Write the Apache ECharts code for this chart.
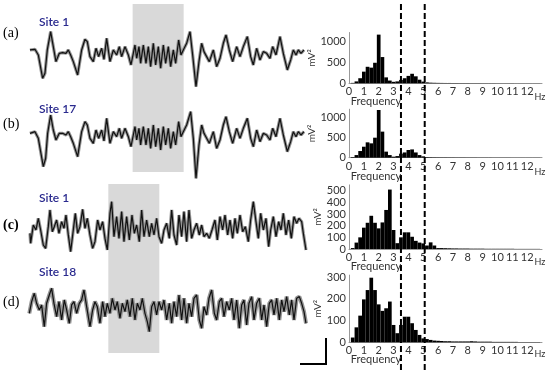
<!DOCTYPE html>
<html>
<head>
<meta charset="utf-8">
<script src="https://cdn.jsdelivr.net/npm/echarts@6/dist/echarts.min.js"></script>
<style>
  html, body { margin: 0; padding: 0; background: #fff; }
  #main { width: 550px; height: 377px; }
</style>
</head>
<body>
<div id="main"></div>
<script>
// traces: [sample, amplitude] (smoothed black line)
var traceA = [[90,10],[95,5],[105,12],[115,-5],[128,-75],[135,-60],[142,10],[152,65],[160,20],[168,-25],[178,0],[188,2],[198,0],[205,10],[212,-5],[220,-25],[233,-65],[245,10],[255,42],[262,35],[270,-10],[280,-25],[288,15],[296,-10],[305,15],[312,-18],[320,45],[330,-25],[340,10],[350,-5],[358,20],[365,-10],[375,20],[385,-5],[393,-35],[400,0],[405,25],[410,-15],[417,20],[422,-30],[430,25],[438,-30],[445,20],[452,-40],[460,30],[467,-35],[475,20],[482,-45],[490,25],[497,-30],[505,20],[512,-40],[520,10],[527,-30],[536,40],[543,-5],[550,10],[560,30],[570,65],[578,-5],[588,-100],[597,-25],[605,30],[612,5],[620,-10],[628,-25],[640,10],[650,-40],[660,-15],[670,30],[678,55],[688,10],[698,-25],[710,20],[720,-10],[730,20],[742,50],[752,-10],[760,-35],[770,15],[780,-20],[790,5],[800,0],[810,-15],[818,20],[828,-5],[840,50],[850,0],[862,-50],[872,-20],[880,10],[888,-5],[895,10],[903,0],[912,10]];
var traceB = [[90,5],[95,0],[105,10],[115,-10],[130,-95],[137,-70],[143,5],[152,60],[160,15],[168,-15],[178,5],[188,5],[198,0],[205,10],[212,-5],[220,-25],[233,-65],[245,10],[255,40],[262,30],[270,-10],[280,-25],[288,15],[296,-10],[305,15],[312,-18],[320,50],[330,-25],[340,10],[350,-5],[358,20],[365,-10],[375,20],[385,-5],[393,-35],[400,0],[405,25],[410,-15],[417,20],[422,-30],[430,25],[438,-30],[445,20],[452,-40],[460,30],[467,-35],[475,20],[482,-45],[490,25],[497,-30],[505,20],[512,-40],[520,10],[527,-30],[536,40],[543,-5],[550,10],[560,30],[572,70],[580,-10],[588,-130],[597,-30],[605,30],[612,5],[620,-10],[628,-25],[640,10],[650,-40],[660,-15],[670,30],[678,55],[688,10],[698,-25],[710,20],[720,-10],[730,20],[742,50],[752,-10],[760,-35],[770,15],[780,-20],[790,5],[800,0],[810,-15],[818,20],[828,-5],[840,50],[850,0],[862,-50],[872,-20],[880,10],[888,-5],[895,10],[903,0],[912,10]];
var traceC = [[90,-10],[92,-40],[100,15],[108,0],[115,35],[122,0],[130,-45],[137,-55],[145,10],[150,60],[157,-5],[163,10],[170,30],[177,-10],[185,25],[192,5],[198,45],[205,-15],[212,-65],[220,0],[226,50],[233,-10],[240,10],[248,62],[255,5],[262,35],[270,-15],[278,-55],[285,-35],[293,30],[300,0],[308,25],[315,-25],[322,-60],[330,50],[335,85],[342,-20],[350,40],[357,-25],[365,55],[372,-35],[380,40],[388,-30],[396,45],[403,-10],[410,15],[418,-35],[425,60],[432,-20],[440,30],[448,-20],[455,20],[462,-15],[470,35],[477,-20],[485,-40],[492,0],[500,20],[508,-25],[515,60],[522,-15],[530,-45],[537,45],[545,-20],[552,55],[560,-35],[567,60],[575,-25],[582,0],[590,20],[598,-15],[605,15],[612,-20],[620,-10],[628,-25],[636,0],[645,30],[652,-30],[660,40],[668,0],[675,45],[683,-15],[690,30],[698,-25],[705,35],[712,-10],[720,45],[728,-5],[736,10],[745,-35],[752,30],[760,85],[768,25],[775,-25],[782,50],[790,0],[798,35],[806,-50],[812,0],[820,40],[828,-20],[836,25],[843,0],[850,50],[858,-15],[866,30],[874,-25],[882,40],[890,20],[897,35],[905,25],[910,-10],[918,-60]];
var traceD = [[88,-20],[95,15],[103,40],[110,10],[118,-10],[125,5],[133,-60],[140,10],[148,35],[155,55],[162,10],[170,-30],[177,15],[185,-40],[193,20],[200,-10],[208,-50],[215,5],[222,15],[230,-20],[238,10],[245,20],[252,50],[260,0],[270,-60],[278,-10],[285,15],[292,0],[300,-50],[308,15],[315,-30],[322,10],[330,-20],[337,25],[345,-10],[352,15],[360,-35],[367,10],[375,-15],[382,20],[390,-30],[397,25],[405,-40],[412,10],[420,-10],[427,25],[435,-20],[442,-45],[448,-75],[455,0],[462,15],[470,-25],[477,15],[485,-10],[492,20],[500,-40],[508,10],[515,-50],[522,15],[530,-30],[537,35],[545,-40],[552,25],[560,-50],[567,10],[575,-30],[582,25],[590,35],[598,-40],[605,-65],[612,0],[620,-25],[627,25],[635,50],[643,-20],[650,-40],[658,15],[665,25],[672,-30],[680,15],[688,-10],[695,25],[702,-40],[710,20],[718,-65],[725,5],[732,20],[740,-55],[747,10],[755,30],[762,-40],[770,10],[778,25],[785,-40],[792,5],[800,-60],[808,10],[815,20],[822,-25],[830,25],[838,-40],[845,20],[852,-15],[860,30],[868,-25],[875,20],[882,-40],[890,25],[898,30],[905,10],[912,-15],[918,-50]];

// power spectra, bins centred at 0.25, 0.5 ... 12.75 Hz (mV^2)
var histA = [10,45,120,275,390,370,485,1150,620,140,65,35,45,80,120,175,225,165,85,40,22,15,12,10,9,8,8,7,7,6,6,6,5,5,5,4,4,4,4,3,3,3,3,3,2,2,2,2,2,2,2];
var histB = [15,65,165,272,380,355,495,1180,645,150,65,25,40,100,130,190,205,130,65,33,15,12,10,9,8,8,7,7,6,6,6,5,5,5,4,4,4,4,3,3,3,3,3,2,2,2,2,2,2,2,2];
var histC = [8,55,100,183,225,285,225,177,228,335,510,163,50,100,143,143,105,70,55,48,30,57,30,8,8,7,6,5,5,4,4,4,3,3,3,3,2,2,2,2,2,2,2,2,1,1,1,1,1,1,1];
var histD = [22,69,123,198,241,298,241,175,145,157,188,80,42,80,118,118,88,57,34,18,15,11,8,7,6,5,5,4,4,4,4,4,5,4,3,3,3,3,2,2,2,2,2,2,2,1,1,1,1,1,1];
var binW = 0.25;
var freqs = [];
for (var k = 1; k <= histA.length; k++) freqs.push(k * binW);

var bandEdges = [3.5, 5.1];
var panelLabels = ['(a)', '(b)', '(c)', '(d)'];
var siteLabels = ['Site 1', 'Site 17', 'Site 1', 'Site 18'];
var histMax = [1200, 1200, 550, 310];
var histStep = [500, 500, 100, 100];
var traceRange = [[-120, 90], [-135, 75], [-90, 90], [-110, 70]];

var traceGrids = [
  { top: 23.3, height: 70 },
  { top: 110, height: 70 },
  { top: 200, height: 60 },
  { top: 283.3, height: 60 }
];
var histGrids = [
  { top: 32.5, height: 50.8 },
  { top: 109.2, height: 48.5 },
  { top: 184.9, height: 64.1 },
  { top: 275.1, height: 67.2 }
];

var chart = echarts.init(document.getElementById('main'));
var grid = [], xAxis = [], yAxis = [], series = [];
var traces = [traceA, traceB, traceC, traceD];
var hists = [histA, histB, histC, histD];
var font = 'Lato, "Open Sans", sans-serif';

traces.forEach(function (tr, i) {
  grid.push({ left: 29.3, right: 244, top: traceGrids[i].top, height: traceGrids[i].height, outerBoundsMode: 'none' });
  xAxis.push({ type: 'value', gridIndex: i, min: 88, max: 918, show: false });
  yAxis.push({ type: 'value', gridIndex: i, min: traceRange[i][0], max: traceRange[i][1], show: false });
  series.push({
    type: 'line', xAxisIndex: i, yAxisIndex: i, data: tr, showSymbol: false, clip: false, silent: true,
    lineStyle: { color: '#959595', width: i == 3 ? 4 : 3.2 }
  });
  series.push({
    type: 'line', xAxisIndex: i, yAxisIndex: i, data: tr, showSymbol: false, clip: false, silent: true,
    lineStyle: { color: '#111', width: 1.2 }
  });
});

hists.forEach(function (h, i) {
  var gi = i + 4;
  grid.push({ left: 349, right: 8, top: histGrids[i].top, height: histGrids[i].height, outerBoundsMode: 'none' });
  xAxis.push({
    type: 'value', gridIndex: gi, min: 0, max: 13, interval: 1,
    axisLine: { lineStyle: { color: '#999', width: 1 } },
    axisTick: { show: false }, splitLine: { show: false },
    axisLabel: { fontSize: 11, color: '#333', margin: 3, showMaxLabel: false, fontFamily: font }
  });
  yAxis.push({
    type: 'value', gridIndex: gi, min: 0, max: histMax[i], interval: histStep[i],
    axisLine: { show: true, lineStyle: { color: '#999', width: 1 } },
    axisTick: { show: false }, splitLine: { show: false },
    axisLabel: {
      fontSize: 11, color: '#333', margin: 3, showMaxLabel: false, fontFamily: font,
      formatter: function (v) { return String(v); }
    },
    name: 'mV²', nameLocation: 'middle', nameRotate: 90, nameGap: 24,
    nameTextStyle: { fontSize: 10, color: '#333', fontFamily: font }
  });
  series.push({
    type: 'custom', xAxisIndex: gi, yAxisIndex: gi, silent: true,
    data: h.map(function (v, j) { return [freqs[j], v]; }),
    encode: { x: 0, y: 1 },
    renderItem: function (params, api) {
      var c = api.value(0), v = api.value(1);
      var p0 = api.coord([c - binW / 2, v]);
      var p1 = api.coord([c + binW / 2, 0]);
      return {
        type: 'rect',
        shape: { x: p0[0], y: p0[1], width: p1[0] - p0[0], height: p1[1] - p0[1] },
        style: { fill: '#000' }
      };
    }
  });
});

chart.setOption({
  animation: false,
  backgroundColor: '#fff',
  grid: grid, xAxis: xAxis, yAxis: yAxis, series: series
});

// annotations
var g = [];
var boxA0 = chart.convertToPixel({ xAxisIndex: 0 }, 398);
var boxA1 = chart.convertToPixel({ xAxisIndex: 0 }, 551);
var boxC0 = chart.convertToPixel({ xAxisIndex: 2 }, 325);
var boxC1 = chart.convertToPixel({ xAxisIndex: 2 }, 478);
g.push({ type: 'rect', z: 0, shape: { x: boxA0, y: 4, width: boxA1 - boxA0, height: 168 }, style: { fill: '#d9d9d9' } });
g.push({ type: 'rect', z: 0, shape: { x: boxC0, y: 184, width: boxC1 - boxC0, height: 169 }, style: { fill: '#d9d9d9' } });

bandEdges.forEach(function (f) {
  var x = chart.convertToPixel({ xAxisIndex: 4 }, f);
  g.push({ type: 'line', z: 10, shape: { x1: x, y1: 4, x2: x, y2: 373 }, style: { stroke: '#000', lineWidth: 2, lineDash: [6, 3] } });
});

var labelY = [33, 124, 225, 302];
var siteY = [22, 109, 198, 272];
var freqY = [101, 176, 266, 359];
var hzY = [97, 172, 262, 354];
for (var i = 0; i < 4; i++) {
  g.push({ type: 'text', z: 10, x: 3, y: labelY[i], style: { text: panelLabels[i], font: (i == 2 ? 'bold ' : '') + '14px "Liberation Serif", serif', fill: '#000', verticalAlign: 'middle' } });
  g.push({ type: 'text', z: 10, x: 39, y: siteY[i], style: { text: siteLabels[i], font: '600 12px ' + font, fill: '#2a2a8e', verticalAlign: 'middle' } });
  g.push({ type: 'text', z: 10, x: 376, y: freqY[i], style: { text: 'Frequency', font: '11px ' + font, fill: '#333', align: 'center', verticalAlign: 'middle' } });
  g.push({ type: 'text', z: 10, x: 540, y: hzY[i], style: { text: 'Hz', font: '9px ' + font, fill: '#333', align: 'center', verticalAlign: 'middle' } });
}

// scale bar
g.push({ type: 'polyline', z: 10, shape: { points: [[326, 338], [326, 364], [300, 364]] }, style: { stroke: '#000', lineWidth: 2, fill: null } });

chart.setOption({ graphic: g });
</script>
</body>
</html>
